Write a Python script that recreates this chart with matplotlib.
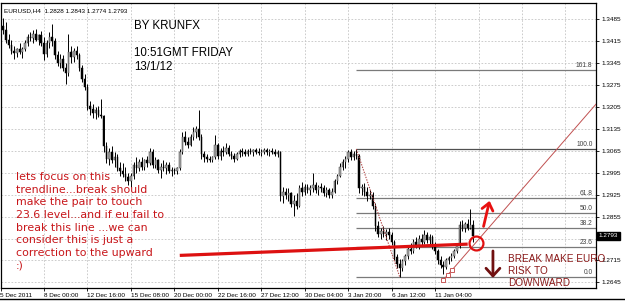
import numpy as np
import matplotlib
matplotlib.use("Agg")
import matplotlib.pyplot as plt
from matplotlib.patches import FancyArrowPatch
from matplotlib.lines import Line2D
import matplotlib.transforms as mtransforms

# ---------------- data (EURUSD H4) ----------------
opens = [1.3440,1.3465,1.3450,1.3420,1.3405,1.3385,1.3378,1.3390,1.3380,1.3392,1.3410,1.3430,1.3425,1.3440,1.3420,1.3435,
         1.3410,1.3375,1.3410,1.3430,1.3415,1.3370,1.3345,1.3360,1.3330,1.3315,1.3380,1.3365,1.3385,1.3370,1.3330,1.3295,
         1.3270,1.3210,1.3200,1.3185,1.3195,1.3180,1.3175,1.3080,1.3040,1.3060,1.3035,1.3045,1.3010,1.3000,1.2990,1.2980,
         1.2970,1.2985,1.3020,1.3010,1.3030,1.3015,1.3035,1.3025,1.3060,1.3020,1.3035,1.3005,1.3015,1.3010,1.3020,1.3000,
         1.3005,1.3000,1.3010,1.3060,1.3110,1.3095,1.3085,1.3110,1.3125,1.3135,1.3110,1.3055,1.3045,1.3040,1.3035,1.3045,
         1.3085,1.3050,1.3065,1.3060,1.3075,1.3055,1.3050,1.3040,1.3055,1.3065,1.3060,1.3055,1.3065,1.3060,1.3068,1.3062,
         1.3058,1.3062,1.3068,1.3060,1.3065,1.3060,1.3055,1.3062,1.2920,1.2935,1.2925,1.2930,1.2895,1.2905,1.2890,1.2945,
         1.2935,1.2950,1.2940,1.2948,1.2955,1.2940,1.2950,1.2945,1.2930,1.2940,1.2925,1.2935,1.2968,1.2985,1.3015,1.3030,
         1.3040,1.3060,1.3045,1.3055,1.3050,1.2945,1.2950,1.2935,1.2920,1.2925,1.2890,1.2825,1.2800,1.2810,1.2798,1.2805,
         1.2795,1.2775,1.2725,1.2705,1.2690,1.2712,1.2728,1.2752,1.2745,1.2775,1.2765,1.2785,1.2775,1.2795,1.2780,1.2790,
         1.2760,1.2745,1.2715,1.2700,1.2695,1.2715,1.2722,1.2730,1.2745,1.2762,1.2828,1.2820,1.2830,1.2818,1.2828]
highs = [1.3475,1.3490,1.3478,1.3440,1.3420,1.3400,1.3395,1.3410,1.3398,1.3420,1.3440,1.3445,1.3452,1.3455,1.3440,1.3448,
         1.3430,1.3420,1.3445,1.3470,1.3425,1.3385,1.3375,1.3370,1.3345,1.3440,1.3400,1.3395,1.3400,1.3378,1.3340,1.3310,
         1.3280,1.3225,1.3215,1.3205,1.3210,1.3232,1.3180,1.3095,1.3075,1.3080,1.3060,1.3055,1.3030,1.3025,1.3015,1.2995,
         1.2995,1.3030,1.3045,1.3040,1.3045,1.3040,1.3050,1.3075,1.3070,1.3045,1.3040,1.3025,1.3035,1.3030,1.3030,1.3015,
         1.3010,1.3015,1.3070,1.3125,1.3130,1.3110,1.3120,1.3140,1.3145,1.3196,1.3118,1.3065,1.3055,1.3048,1.3050,1.3115,
         1.3090,1.3075,1.3080,1.3090,1.3085,1.3065,1.3058,1.3060,1.3070,1.3075,1.3072,1.3070,1.3075,1.3072,1.3075,1.3074,
         1.3070,1.3075,1.3074,1.3072,1.3075,1.3070,1.3068,1.3065,1.2950,1.2945,1.2945,1.2935,1.2925,1.2930,1.2955,1.2965,
         1.2958,1.2960,1.2955,1.2994,1.2965,1.2955,1.2962,1.2955,1.2950,1.2948,1.2945,1.2975,1.2990,1.3025,1.3040,1.3050,
         1.3068,1.3070,1.3065,1.3071,1.3055,1.2960,1.2962,1.2950,1.2940,1.2935,1.2900,1.2840,1.2820,1.2825,1.2815,1.2818,
         1.2805,1.2780,1.2735,1.2718,1.2720,1.2735,1.2760,1.2770,1.2782,1.2790,1.2795,1.2800,1.2812,1.2805,1.2800,1.2795,
         1.2775,1.2752,1.2730,1.2712,1.2722,1.2728,1.2738,1.2752,1.2770,1.2840,1.2845,1.2838,1.2848,1.2878,1.2843]
lows = [1.3420,1.3440,1.3410,1.3395,1.3375,1.3360,1.3365,1.3375,1.3362,1.3385,1.3400,1.3415,1.3410,1.3415,1.3405,1.3400,
        1.3355,1.3365,1.3395,1.3400,1.3360,1.3335,1.3330,1.3320,1.3280,1.3305,1.3345,1.3350,1.3360,1.3320,1.3285,1.3260,
        1.3195,1.3180,1.3170,1.3168,1.3172,1.3170,1.3060,1.3025,1.3020,1.3025,1.3015,1.3000,1.2985,1.2980,1.2970,1.2955,
        1.2950,1.2975,1.2995,1.3000,1.3005,1.3005,1.3015,1.3020,1.3010,1.3010,1.2995,1.2978,1.3000,1.2990,1.2995,1.2985,
        1.2990,1.2992,1.3005,1.3055,1.3085,1.3075,1.3080,1.3100,1.3105,1.3100,1.3040,1.3030,1.3028,1.3030,1.3030,1.3040,
        1.3040,1.3035,1.3050,1.3055,1.3050,1.3040,1.3030,1.3035,1.3045,1.3050,1.3048,1.3050,1.3055,1.3050,1.3055,1.3052,
        1.3050,1.3055,1.3052,1.3050,1.3055,1.3048,1.3045,1.2905,1.2900,1.2910,1.2905,1.2885,1.2858,1.2880,1.2885,1.2920,
        1.2925,1.2930,1.2925,1.2935,1.2930,1.2925,1.2935,1.2920,1.2918,1.2915,1.2915,1.2930,1.2960,1.2980,1.3005,1.3010,
        1.3030,1.3035,1.3035,1.3040,1.2930,1.2925,1.2920,1.2905,1.2910,1.2880,1.2810,1.2790,1.2785,1.2790,1.2780,1.2785,
        1.2765,1.2715,1.2690,1.2662,1.2680,1.2700,1.2720,1.2735,1.2740,1.2755,1.2750,1.2765,1.2768,1.2770,1.2765,1.2750,
        1.2735,1.2705,1.2690,1.2672,1.2688,1.2705,1.2712,1.2722,1.2738,1.2755,1.2810,1.2805,1.2812,1.2815,1.2774]
closes = [1.3465,1.3450,1.3420,1.3405,1.3385,1.3378,1.3390,1.3380,1.3392,1.3410,1.3430,1.3425,1.3440,1.3420,1.3435,1.3410,
          1.3375,1.3410,1.3430,1.3415,1.3370,1.3345,1.3360,1.3330,1.3315,1.3380,1.3365,1.3385,1.3370,1.3330,1.3295,1.3270,
          1.3210,1.3200,1.3185,1.3195,1.3180,1.3175,1.3080,1.3040,1.3060,1.3035,1.3045,1.3010,1.3000,1.2990,1.2980,1.2970,
          1.2985,1.3020,1.3010,1.3030,1.3015,1.3035,1.3025,1.3060,1.3020,1.3035,1.3005,1.3015,1.3010,1.3020,1.3000,1.3005,
          1.3000,1.3010,1.3060,1.3110,1.3095,1.3085,1.3110,1.3125,1.3135,1.3110,1.3055,1.3045,1.3040,1.3035,1.3045,1.3085,
          1.3050,1.3065,1.3060,1.3075,1.3055,1.3050,1.3040,1.3055,1.3065,1.3060,1.3055,1.3065,1.3060,1.3068,1.3062,1.3058,
          1.3062,1.3068,1.3060,1.3065,1.3060,1.3055,1.3062,1.2920,1.2935,1.2925,1.2930,1.2895,1.2905,1.2890,1.2945,1.2935,
          1.2950,1.2940,1.2948,1.2955,1.2940,1.2950,1.2945,1.2930,1.2940,1.2925,1.2935,1.2968,1.2985,1.3015,1.3030,1.3040,
          1.3060,1.3045,1.3055,1.3050,1.2945,1.2950,1.2935,1.2920,1.2925,1.2890,1.2825,1.2800,1.2810,1.2798,1.2805,1.2795,
          1.2775,1.2725,1.2705,1.2690,1.2712,1.2728,1.2752,1.2745,1.2775,1.2765,1.2785,1.2775,1.2795,1.2780,1.2790,1.2760,
          1.2745,1.2715,1.2700,1.2695,1.2715,1.2722,1.2730,1.2745,1.2762,1.2828,1.2820,1.2830,1.2818,1.2828,1.2793]
first_bar = -16           # bar index of first visible bar (8 Dec 00:00 = 0)

date_tick_bars = [-16, 0, 16, 32, 48, 64, 80, 96, 112, 128, 144]
date_labels = ["5 Dec 2011", "8 Dec 00:00", "12 Dec 16:00", "15 Dec 08:00", "20 Dec 00:00",
               "22 Dec 16:00", "27 Dec 12:00", "30 Dec 04:00", "3 Jan 20:00", "6 Jan 12:00", "11 Jan 04:00"]
vgrid_bars = [0, 16, 32, 48, 64, 80, 96, 112, 128, 144, 160, 176, 192]
price_levels = [1.3485, 1.3415, 1.3345, 1.3275, 1.3205, 1.3135, 1.3065, 1.2995,
                1.2925, 1.2855, 1.2785, 1.2715, 1.2645]
# the 1.2785 label is hidden under the current-price box in the reference
price_labels = ["1.3485", "1.3415", "1.3345", "1.3275", "1.3205", "1.3135", "1.3065", "1.2995",
                "1.2925", "1.2855", "", "1.2715", "1.2645"]
current_price = 1.2793

fib_ratios = [0.0, 0.236, 0.382, 0.5, 0.618, 1.0, 1.618]
fib_names = ["0.0", "23.6", "38.2", "50.0", "61.8", "100.0", "161.8"]
fib_high, fib_low = 1.3071, 1.2662
fib_high_bar, fib_low_bar = 115, 131

trend_bars = [50, 156]
trend_prices = [1.2731, 1.2767]
gann_bars = [147, 205]
gann_prices = [1.2652, 1.3232]
gann_marks_bars = [147, 148.6, 150.2]
gann_marks_prices = [1.2652, 1.2668, 1.2684]
circle_bar, circle_price = 159.1, 1.2771
up_arrow_bars, up_arrow_prices = [161.6, 164.3], [1.2815, 1.2914]
down_arrow_bars, down_arrow_prices = [165.3, 165.3], [1.2754, 1.2650]

header = "EURUSD,H4  1.2828 1.2843 1.2774 1.2793"
author_lines = ["BY KRUNFX", "", "10:51GMT FRIDAY", "13/1/12"]
comment_text = ("lets focus on this\ntrendline...break should\nmake the pair to touch\n"
                "23.6 level...and if eu fail to\nbreak this line ...we can\n"
                "consider this is just a\ncorrection to the upward\n:)")
break_lines = ["BREAK MAKE EURO", "RISK TO", "DOWNWARD"]

# ---------------- figure ----------------
W, H = 625, 302
fig = plt.figure(figsize=(W / 100, H / 100), dpi=100)
fig.patch.set_facecolor("white")
ax = fig.add_axes([0.5 / W, 1 - 288 / H, 595.5 / W, 285 / H])
ax.set_facecolor("white")
ax.set_xlim(-16, 203.24)
ax.set_ylim(1.26268, 1.35377)

grid_kw = dict(color="#c4c4c4", lw=0.6, ls=(0, (2, 2)), zorder=0)
for p in price_levels:
    ax.axhline(p, **grid_kw)
for b in vgrid_bars:
    ax.axvline(b, **grid_kw)

# candles
x = np.arange(first_bar, first_bar + len(closes))
o = np.array(opens); h = np.array(highs); l = np.array(lows); c = np.array(closes)
ax.vlines(x, l, h, color="black", lw=0.7, zorder=3)
bottom = np.minimum(o, c)
height = np.maximum(np.abs(c - o), 0.00012)
bull = c >= o
ax.bar(x[bull], height[bull], bottom=bottom[bull], width=0.55, color="#a8a8a8",
       edgecolor="#404040", lw=0.35, zorder=4)
ax.bar(x[~bull], height[~bull], bottom=bottom[~bull], width=0.55, color="black",
       edgecolor="black", lw=0.35, zorder=4)

# fibonacci retracement
xr = ax.get_xlim()[1]
for r, nm in zip(fib_ratios, fib_names):
    lvl = fib_low + r * (fib_high - fib_low)
    ax.hlines(lvl, fib_high_bar, xr, color="#7a7a7a" if r != 1.0 else "#505050", lw=0.9, zorder=2)
    ax.text(xr - 1.3, lvl + 0.0002, nm, ha="right", va="bottom", fontsize=4.8,
            family="Liberation Sans", color="#404040", zorder=5)
ax.plot([fib_high_bar, fib_low_bar], [fib_high, fib_low], color="#b04848",
        lw=0.8, ls=(0, (1.2, 1.2)), zorder=5)

# thin angle line with anchor squares
ax.plot(gann_bars, gann_prices, color="#c05050", lw=0.7, zorder=5)
ax.plot(gann_marks_bars, gann_marks_prices, ls="none", marker="s", ms=2.2,
        mfc="white", mec="#c04040", mew=0.6, zorder=6)

# red trendline
ax.plot(trend_bars, trend_prices, color="#dd1111", lw=2.3, solid_capstyle="butt", zorder=7)
ax.plot([circle_bar], [circle_price], marker="o", ms=10, mfc="none", mec="#e01010", mew=1.6, zorder=8)

ua = FancyArrowPatch((up_arrow_bars[0], up_arrow_prices[0]), (up_arrow_bars[1], up_arrow_prices[1]),
                     arrowstyle="->,head_length=5,head_width=4", color="#e81010", lw=2.0,
                     mutation_scale=1, zorder=8)
ax.add_patch(ua)
da = FancyArrowPatch((down_arrow_bars[0], down_arrow_prices[0]), (down_arrow_bars[1], down_arrow_prices[1]),
                     arrowstyle="->,head_length=5.5,head_width=5", color="#701010", lw=2.0,
                     mutation_scale=1, zorder=8)
ax.add_patch(da)

# texts
ax.text(3 / 595.5, 1 - 5 / 285, header, transform=ax.transAxes, fontsize=4.6,
        family="Liberation Sans", va="top", ha="left")
ax.text(134 / 595.5, 1 - 17 / 285, "\n".join(author_lines), transform=ax.transAxes,
        fontsize=8.3, family="Liberation Sans", va="top", ha="left", linespacing=1.18)
ax.text(15.5 / 595.5, 1 - 169 / 285, comment_text, transform=ax.transAxes, fontsize=7.9,
        family="DejaVu Sans", color="#c8161a", va="top", ha="left", linespacing=1.33, zorder=9)
for k, line in enumerate(break_lines):
    ax.text(507.5 / 595.5, 1 - (256 + 12 * k) / 285, line, transform=ax.transAxes, fontsize=7.2,
            family="Liberation Sans", color="#8a1818", va="center", ha="left",
            clip_on=False, zorder=9)

# axes styling
for s in ax.spines.values():
    s.set_color("black"); s.set_linewidth(0.9)
ax.yaxis.tick_right()
ax.set_yticks(price_levels)
ax.set_yticklabels(price_labels)
ax.set_xticks(date_tick_bars)
ax.set_xticklabels(date_labels)
ax.tick_params(axis="y", length=2.5, width=0.6, pad=1.2, labelsize=4.6, colors="black")
ax.tick_params(axis="x", length=2.5, width=0.6, pad=1.0, labelsize=4.6, colors="black")
for t in ax.get_xticklabels():
    t.set_ha("left"); t.set_family("Liberation Sans")
for t in ax.get_yticklabels():
    t.set_family("Liberation Sans")

# current price marker
trans = mtransforms.blended_transform_factory(ax.transAxes, ax.transData)
ax.text(1.0045, current_price, f"{current_price:.4f}", transform=trans, fontsize=4.6,
        family="Liberation Sans", color="white", va="center", ha="left",
        bbox=dict(boxstyle="square,pad=0.25", fc="black", ec="black"), zorder=10, clip_on=False)

fig.add_artist(Line2D([0, 1], [1 - 299 / H, 1 - 299 / H], color="black", lw=1.0))

fig.savefig("out.png", dpi=100)
